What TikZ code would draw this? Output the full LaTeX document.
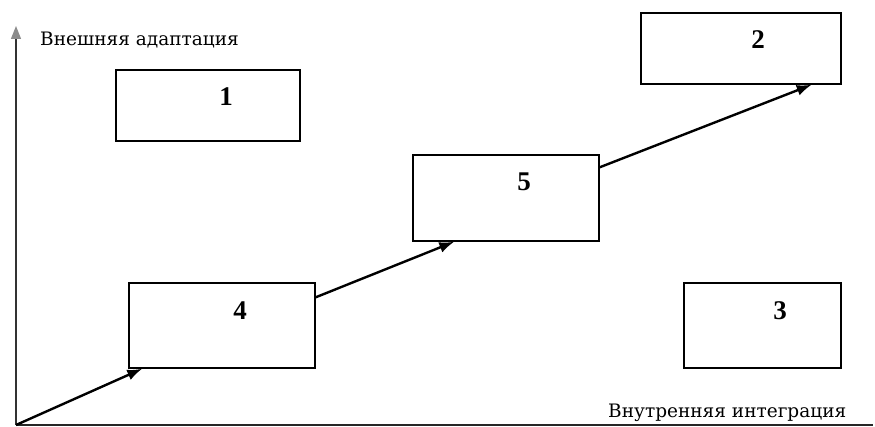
\documentclass[tikz,border=0pt]{standalone}
\usepackage{fontspec}
\setmainfont{Liberation Serif}
\newfontfamily\labelfont{DejaVu Serif}
\usetikzlibrary{arrows.meta,calc}
\begin{document}
\begin{tikzpicture}[x=1pt,y=-1pt,
  box/.style={draw=black,line width=1.4pt,minimum width=#1,inner sep=0pt},
  num/.style={font=\fontsize{27}{27}\selectfont\bfseries,inner sep=0pt},
  axlabel/.style={font=\labelfont\fontsize{18.5}{18.5}\selectfont,inner sep=0pt,anchor=base west},
  flow/.style={line width=2.4pt,-{Latex[length=15pt,width=11pt]}},
  axis/.style={line width=1.3pt,draw=black!80,-{Triangle[length=13pt,width=10pt,fill=black!45,color=black!45]}}]
\useasboundingbox (0,0) rectangle (875,427);
\node[box=184pt,minimum height=71pt] (b1) at (208,105.5) {};
\node[box=200pt,minimum height=71pt] (b2) at (741,48.5) {};
\node[box=157pt,minimum height=85pt] (b3) at (762.5,325.5) {};
\node[box=186pt,minimum height=85pt] (b4) at (222,325.5) {};
\node[box=186pt,minimum height=86pt] (b5) at (506,198) {};
\node[num] (n1) at (226,97) {1};
\node[num] (n2) at (758,40) {2};
\node[num] (n3) at (780,311) {3};
\node[num] (n4) at (240,311) {4};
\node[num] (n5) at (524,182) {5};
\coordinate (O) at (16,425);
\coordinate (ytop) at (16,26);
\coordinate (xend) at (873,425);
\draw[axis] (O) -- (ytop);
\draw[line width=1.3pt,draw=black!85] (O) -- (xend);
\node[axlabel] (ly) at (40,46) {Внешняя адаптация};
\node[axlabel] (lx) at (608,417) {Внутренняя интеграция};
\draw[flow] (O) -- ($(b4.south west)+(14,0)$);
\draw[flow] ($(b4.north east)+(0,15)$) -- ($(b5.south west)+(42,0)$);
\draw[flow] ($(b5.north east)+(0,13)$) -- ($(b2.south east)+(-30,0)$);
\end{tikzpicture}
\end{document}
